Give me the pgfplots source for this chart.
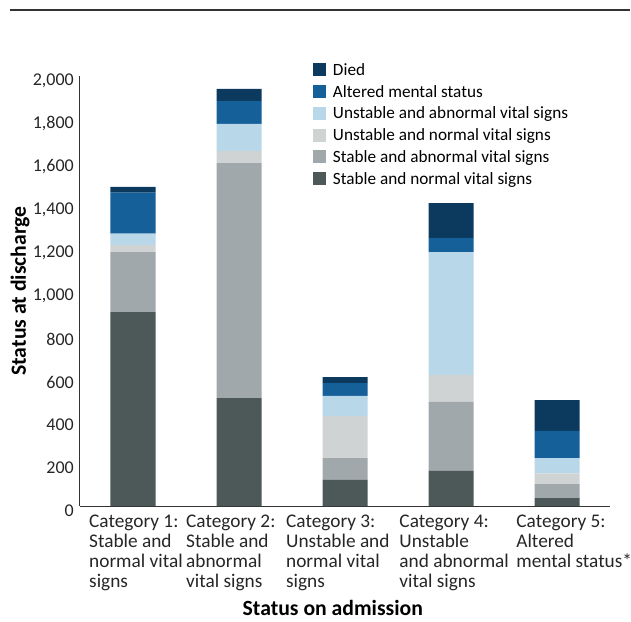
\documentclass[border=0pt]{standalone}
\usepackage{fontspec}
\setmainfont{Carlito}
\usepackage{pgfplots}
\pgfplotsset{compat=1.18}
\definecolor{cD}{HTML}{0B3A5E}
\definecolor{cAM}{HTML}{16609A}
\definecolor{cUA}{HTML}{B8D7E9}
\definecolor{cUN}{HTML}{D0D3D4}
\definecolor{cSA}{HTML}{A1A8AB}
\definecolor{cSN}{HTML}{4D5858}
\definecolor{axc}{HTML}{333333}
\begin{document}
\begin{tikzpicture}
\useasboundingbox (-80pt,-115pt) rectangle (551pt,506pt);
\begin{axis}[
  scale only axis, width=530pt, height=430pt,
  xmin=-0.5, xmax=4.5, ymin=0, ymax=2000,
  ybar stacked, bar width=45pt,
  every axis plot post/.append style={
    /pgfplots/legend image code/.code={\fill[##1, draw=none] (0pt,-6.5pt) rectangle (13pt,6.5pt);}},
  axis x line=bottom, axis y line=left,
  axis line style={-, line width=1pt, draw=axc},
  clip=false,
  xtick=\empty,
  ytick={0,200,...,2000},
  major tick length=0pt,
  /pgf/number format/1000 sep={,},
  /pgf/number format/assume math mode=true,
  yticklabel style={font=\fontsize{18pt}{18pt}\selectfont, anchor=east, inner sep=0pt, xshift=-6pt, yshift=-5pt, text=black!85},
  ylabel={Status at discharge},
  ylabel style={font=\bfseries\fontsize{21.7pt}{22pt}\selectfont, at={(axis description cs:-0.1132,0.5)}, anchor=center},
  xlabel={Status on admission},
  xlabel style={font=\bfseries\fontsize{21.7pt}{22pt}\selectfont, at={(axis description cs:0.477,-0.238)}, anchor=center},
  legend style={draw=none, fill=none, inner sep=0pt, outer sep=0pt,
    at={(0.4396,1.0392)}, anchor=north west,
    font=\fontsize{17.2pt}{17.2pt}\selectfont, row sep=0pt, column sep=4pt,
    nodes={text height=15.6pt, text depth=4.5pt, inner ysep=0.8pt, inner xsep=3pt}},
  legend cell align=left,
  reverse legend,
]
\addplot[fill=cSN, draw=none] coordinates {(0,902) (1,502) (2,121) (3,163) (4,37)};
\addlegendentry{Stable and normal vital signs}
\addplot[fill=cSA, draw=none] coordinates {(0,279) (1,1093) (2,102) (3,321) (4,65)};
\addlegendentry{Stable and abnormal vital signs}
\addplot[fill=cUN, draw=none] coordinates {(0,32) (1,56) (2,196) (3,125) (4,50)};
\addlegendentry{Unstable and normal vital signs}
\addplot[fill=cUA, draw=none] coordinates {(0,54) (1,126) (2,93) (3,572) (4,71)};
\addlegendentry{Unstable and abnormal vital signs}
\addplot[fill=cAM, draw=none] coordinates {(0,190) (1,107) (2,60) (3,66) (4,126)};
\addlegendentry{Altered mental status}
\addplot[fill=cD, draw=none] coordinates {(0,27) (1,56) (2,28) (3,162) (4,144)};
\addlegendentry{Died}
\node[anchor=north west, align=left, inner sep=0pt, yshift=-9pt, text=black!85, font=\fontsize{19.3pt}{20pt}\selectfont] at (axis cs:-0.415,0) {Category 1:\\Stable and\\normal vital\\signs};
\node[anchor=north west, align=left, inner sep=0pt, yshift=-9pt, text=black!85, font=\fontsize{19.3pt}{20pt}\selectfont] at (axis cs:0.500,0) {Category 2:\\Stable and\\abnormal\\vital signs};
\node[anchor=north west, align=left, inner sep=0pt, yshift=-9pt, text=black!85, font=\fontsize{19.3pt}{20pt}\selectfont] at (axis cs:1.443,0) {Category 3:\\Unstable and\\normal vital\\signs};
\node[anchor=north west, align=left, inner sep=0pt, yshift=-9pt, text=black!85, font=\fontsize{19.3pt}{20pt}\selectfont] at (axis cs:2.512,0) {Category 4:\\Unstable\\and abnormal\\vital signs};
\node[anchor=north west, align=left, inner sep=0pt, yshift=-9pt, text=black!85, font=\fontsize{19.3pt}{20pt}\selectfont] at (axis cs:3.615,0) {Category 5:\\Altered\\mental status*};
\end{axis}
\draw[line width=1.3pt, draw=axc] (-70pt,496pt) -- (550pt,496pt);
\end{tikzpicture}
\end{document}
